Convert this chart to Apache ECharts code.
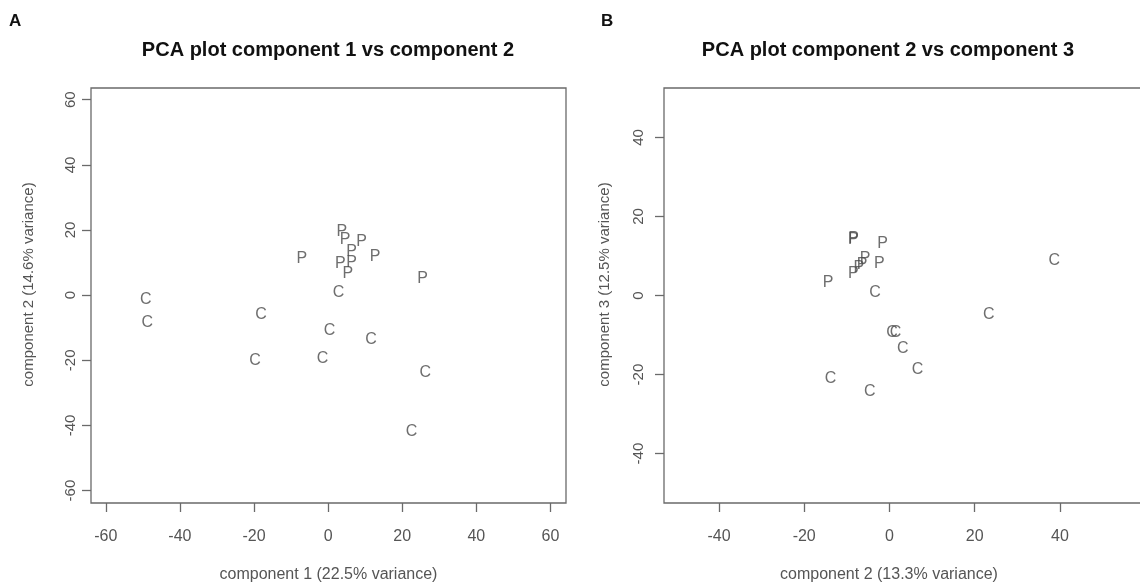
<!DOCTYPE html>
<html>
<head>
<meta charset="utf-8">
<title>PCA plots</title>
<script src="https://cdn.jsdelivr.net/npm/echarts@6/dist/echarts.min.js"></script>
<style>
  html, body { margin: 0; padding: 0; background: #fff; }
  #main { width: 1140px; height: 583px; }
</style>
</head>
<body>
<div id="main"></div>
<script>
// panel A: component 1 vs component 2
var pc12_P = [[3.7, 20.3], [4.6, 17.9], [9.0, 17.4], [6.3, 14.3], [-7.1, 12.3],
              [12.7, 12.9], [3.3, 10.7], [6.3, 11.0], [5.3, 7.5], [25.5, 5.9]];
var pc12_C = [[2.8, 1.8], [-49.2, -0.4], [-18.1, -5.1], [-48.8, -7.4], [0.4, -10.1],
              [11.6, -12.7], [-19.7, -19.3], [-1.5, -18.6], [26.2, -22.7], [22.5, -41.1]];
// panel B: component 2 vs component 3
var pc23_P = [[-8.5, 15.0], [-8.4, 15.1], [-1.6, 14.0], [-5.7, 10.2], [-6.4, 8.6],
              [-7.2, 7.9], [-8.5, 6.3], [-2.4, 8.9], [-14.4, 3.9]];
var pc23_C = [[-3.4, 1.5], [38.7, 9.7], [23.3, -4.0], [0.6, -8.6], [1.4, -8.6],
              [3.1, -12.8], [6.6, -18.0], [-13.8, -20.2], [-4.6, -23.6]];

var ticksA = [-60, -40, -20, 0, 20, 40, 60];
var ticksBx = [-40, -20, 0, 20, 40];
var ticksBy = [-40, -20, 0, 20, 40];

var titles = ['PCA plot component 1 vs component 2', 'PCA plot component 2 vs component 3'];
var xNames = ['component 1 (22.5% variance)', 'component 2 (13.3% variance)'];
var yNames = ['component 2 (14.6% variance)', 'component 3 (12.5% variance)'];

var FONT = '"Liberation Sans", Arial, sans-serif';
var GREY = '#555';
var LINE = '#6a6a6a';

function xAxis(idx, min, max, ticks, name, namePad) {
    return {
        type: 'value', gridIndex: idx, min: min, max: max,
        splitLine: { show: false },
        axisLine: { show: false, onZero: false },
        axisTick: { show: true, length: 9, customValues: ticks,
                    lineStyle: { color: LINE, width: 1.3 } },
        axisLabel: { customValues: ticks, margin: 26, color: GREY,
                     fontSize: 16, fontFamily: FONT },
        name: name, nameLocation: 'middle', nameGap: 64,
        nameTextStyle: { color: GREY, fontSize: 16, fontFamily: FONT, padding: namePad }
    };
}

function yAxis(idx, min, max, ticks, name, margin, gap) {
    return {
        type: 'value', gridIndex: idx, min: min, max: max,
        splitLine: { show: false },
        axisLine: { show: false, onZero: false },
        axisTick: { show: true, length: 9, customValues: ticks,
                    lineStyle: { color: LINE, width: 1.3 } },
        axisLabel: { customValues: ticks, rotate: 90, margin: margin, color: GREY,
                     fontSize: 15, fontFamily: FONT },
        name: name, nameLocation: 'middle', nameGap: gap,
        nameTextStyle: { color: GREY, fontSize: 15, fontFamily: FONT, padding: [0, 0, 0, 22] }
    };
}

function letters(name, data, idx) {
    return {
        type: 'scatter', name: name, data: data,
        xAxisIndex: idx, yAxisIndex: idx,
        symbolSize: 1, itemStyle: { color: 'rgba(0,0,0,0)' },
        silent: true,
        label: { show: true, position: 'inside', offset: [0, 3], formatter: name,
                 color: '#4a4a4a', fontSize: 16, fontFamily: FONT }
    };
}

var chart = echarts.init(document.getElementById('main'), null, { renderer: 'canvas' });

var option = {
    backgroundColor: '#fff',
    animation: false,
    title: [
        { text: 'A', left: 9, top: 13, padding: 0,
          textStyle: { fontSize: 17, fontWeight: 'bold', color: '#111', fontFamily: FONT } },
        { text: 'B', left: 601, top: 13, padding: 0,
          textStyle: { fontSize: 17, fontWeight: 'bold', color: '#111', fontFamily: FONT } },
        { text: titles[0], left: 328, top: 40, padding: 0, textAlign: 'center',
          textStyle: { fontSize: 20, fontWeight: 'bold', color: '#111', fontFamily: FONT } },
        { text: titles[1], left: 888, top: 40, padding: 0, textAlign: 'center',
          textStyle: { fontSize: 20, fontWeight: 'bold', color: '#111', fontFamily: FONT } }
    ],
    grid: [
        { left: 91, top: 88, width: 475, height: 415, show: true, outerBoundsMode: 'none',
          borderColor: LINE, borderWidth: 1.3, backgroundColor: 'transparent' },
        { left: 664, top: 88, width: 482, height: 415, show: true, outerBoundsMode: 'none',
          borderColor: LINE, borderWidth: 1.3, backgroundColor: 'transparent' }
    ],
    xAxis: [
        xAxis(0, -64, 64.2, ticksA, xNames[0], 0),
        xAxis(1, -52.9, 60.2, ticksBx, xNames[1], [0, 32, 0, 0])
    ],
    yAxis: [
        yAxis(0, -63.8, 63.6, ticksA, yNames[0], 13, 55),
        yAxis(1, -52.5, 52.5, ticksBy, yNames[1], 18, 52)
    ],
    series: [
        letters('P', pc12_P, 0),
        letters('C', pc12_C, 0),
        letters('P', pc23_P, 1),
        letters('C', pc23_C, 1)
    ]
};

chart.setOption(option);
</script>
</body>
</html>
